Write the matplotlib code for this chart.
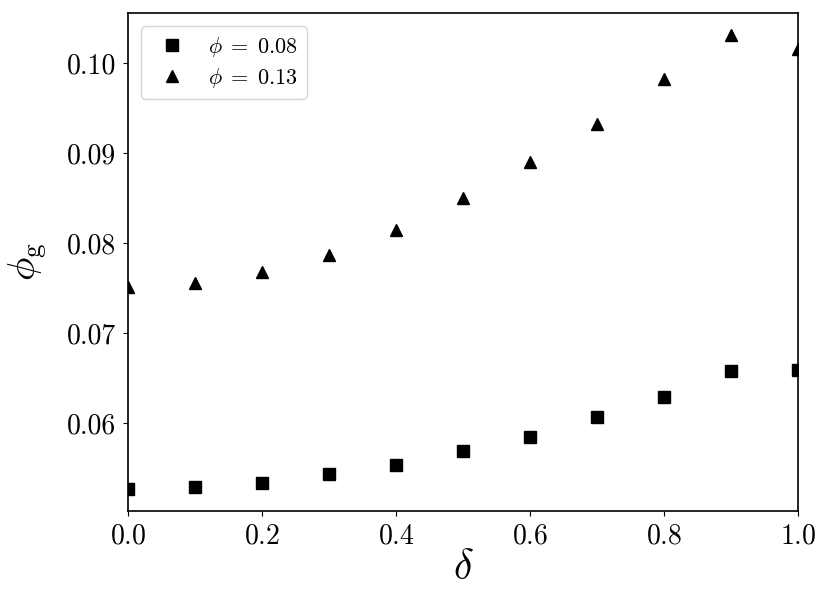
import numpy as np
import matplotlib
matplotlib.use("Agg")
import matplotlib.pyplot as plt

plt.rcParams["font.family"] = "serif"
plt.rcParams["font.serif"] = ["cmr10"]
plt.rcParams["mathtext.fontset"] = "cm"
plt.rcParams["axes.formatter.use_mathtext"] = True

delta = [0.0, 0.1, 0.2, 0.3, 0.4, 0.5, 0.6, 0.7, 0.8, 0.9, 1.0]
phi_g_008 = [0.05267, 0.05289, 0.05333, 0.05433, 0.05533, 0.05689,
             0.05844, 0.06067, 0.06289, 0.06578, 0.06589]
phi_g_013 = [0.07511, 0.07556, 0.07678, 0.07867, 0.08144, 0.08500,
             0.08900, 0.09322, 0.09822, 0.10311, 0.10156]

fig = plt.figure(figsize=(8.3, 6.09), dpi=100)
ax = fig.add_axes([128 / 830, 1 - 511 / 609, 670 / 830, 498 / 609])

ax.plot(delta, phi_g_008, "s", color="k", markersize=8.5, label=r"$\phi\;=\;0.08$")
ax.plot(delta, phi_g_013, "^", color="k", markersize=8.5, label=r"$\phi\;=\;0.13$")

ax.set_xlim(0, 1)
ax.set_ylim(0.05022, 0.10556)
ax.set_xticks([0.0, 0.2, 0.4, 0.6, 0.8, 1.0])
ax.set_yticks([0.06, 0.07, 0.08, 0.09, 0.10])
ax.set_yticklabels(["0.06", "0.07", "0.08", "0.09", "0.10"])
ax.tick_params(labelsize=20, pad=5)
for s in ax.spines.values():
    s.set_linewidth(1.2)

ax.set_xlabel(r"$\delta$", fontsize=30, labelpad=0)
ax.set_ylabel(r"$\phi_{\mathrm{g}}$", fontsize=28, labelpad=13)

ax.legend(loc="upper left", fontsize=16, handletextpad=0.6, borderpad=0.4,
          labelspacing=0.3, borderaxespad=0.6)

fig.savefig("out.png", dpi=100)
